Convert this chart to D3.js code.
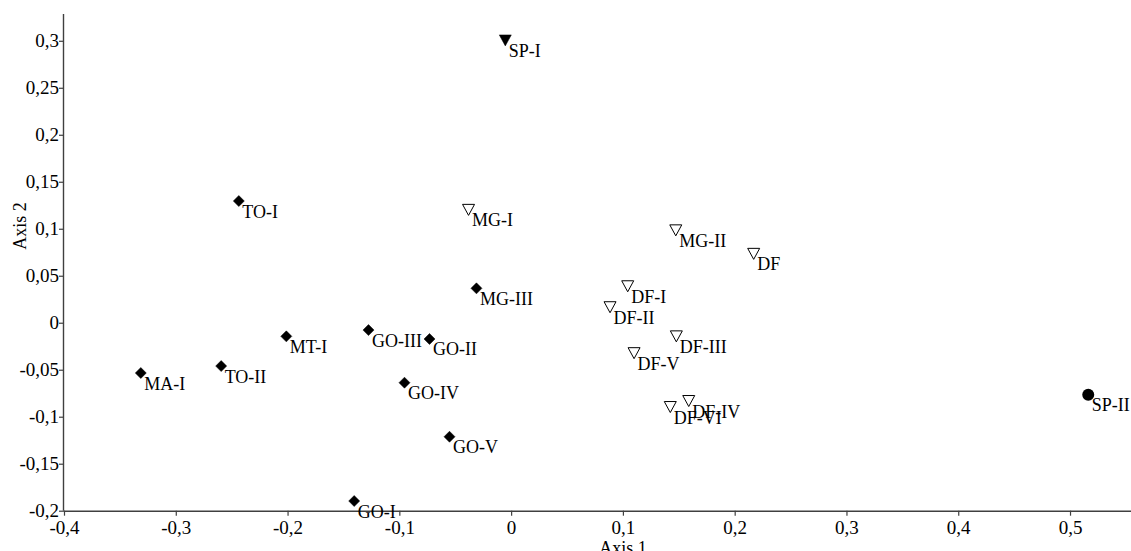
<!DOCTYPE html>
<html>
<head>
<meta charset="utf-8">
<script src="https://cdn.jsdelivr.net/npm/d3@7"></script>
<style>
  body { margin: 0; background: #fff; }
  svg { display: block; overflow: hidden; }
  svg text { font-family: "Liberation Serif", Tinos, "Times New Roman", Times, "Nimbus Roman", "DejaVu Serif", serif; fill: #000; }
</style>
</head>
<body>
<div class="chart"></div>
<script>
// Dati
const labels = ["MA-I", "TO-II", "TO-I", "MT-I", "GO-III", "GO-II", "GO-IV", "GO-V", "GO-I", "MG-III",
                "SP-I", "MG-I", "MG-II", "DF", "DF-I", "DF-II", "DF-III", "DF-V", "DF-VI", "DF-IV", "SP-II"];
const axis1 = [-0.3313, -0.2594, -0.2436, -0.2011, -0.1276, -0.0730, -0.0954, -0.0551, -0.1404, -0.0310,
               -0.0052, -0.0381, 0.1473, 0.2170, 0.1043, 0.0885, 0.1478, 0.1100, 0.1424, 0.1589, 0.5163];
const axis2 = [-0.0535, -0.0461, 0.1295, -0.0145, -0.0078, -0.0173, -0.0638, -0.1213, -0.1897, 0.0366,
               0.3004, 0.1201, 0.0983, 0.0733, 0.0388, 0.0165, -0.0145, -0.0324, -0.0897, -0.0833, -0.0767];
const markers = ["diamond", "diamond", "diamond", "diamond", "diamond", "diamond", "diamond", "diamond", "diamond", "diamond",
                 "filledTri", "openTri", "openTri", "openTri", "openTri", "openTri", "openTri", "openTri", "openTri", "openTri", "circle"];
const xTicks = [-0.4, -0.3, -0.2, -0.1, 0, 0.1, 0.2, 0.3, 0.4, 0.5];
const yTicks = [-0.2, -0.15, -0.1, -0.05, 0, 0.05, 0.1, 0.15, 0.2, 0.25, 0.3];

const width = 1131;
const height = 551;
const serif = '"Liberation Serif", Tinos, "Times New Roman", Times, "Nimbus Roman", "DejaVu Serif", serif';

const svg = d3.select('.chart')
    .append('svg')
    .attr('width', width)
    .attr('height', height);

// scale (l'asse x continua oltre il bordo destro)
const x = d3.scaleLinear().domain([-0.4, 0.6]).range([64, 1181.8]);
const y = d3.scaleLinear().domain([-0.2, 0.3285]).range([510.7, 14]);

const locale = d3.formatLocale({ decimal: ",", thousands: ".", grouping: [3], currency: ["", ""], minus: "-" });
const fmt = locale.format("~g");

// asse x
const gx = svg.append('g')
    .attr('transform', `translate(0,${y(-0.2)})`)
    .call(d3.axisBottom(x).tickValues(xTicks).tickFormat(fmt).tickSize(5).tickPadding(5));

// asse y
const gy = svg.append('g')
    .attr('transform', `translate(${x(-0.4)},0)`)
    .call(d3.axisLeft(y).tickValues(yTicks).tickFormat(fmt).tickSize(5).tickPadding(0));

[gx, gy].forEach(g => {
    g.attr('font-family', serif).attr('font-size', 19);
    g.select('.domain').attr('stroke', '#404040').attr('stroke-width', 1.4);
    g.selectAll('.tick line').attr('stroke', '#404040').attr('stroke-width', 1.2);
    g.selectAll('.tick text').attr('fill', '#000');
});
// nessuna sporgenza agli estremi
gx.select('.domain').attr('d', `M${x(-0.4)},0.5H${x(0.6)}`);
gy.select('.domain').attr('d', `M-0.5,${y(0.3285)}V${y(-0.2)}`);

// titoli degli assi
svg.append('text')
    .attr('x', (x(-0.4) + x(0.6)) / 2)
    .attr('y', 554)
    .attr('text-anchor', 'middle')
    .attr('font-size', 18)
    .text('Axis 1');

svg.append('text')
    .attr('transform', 'translate(26,226) rotate(-90)')
    .attr('text-anchor', 'middle')
    .attr('font-size', 18)
    .text('Axis 2');

const data = labels.map((name, i) => ({ name, a1: axis1[i], a2: axis2[i], m: markers[i] }));

const shapes = {
    diamond: 'M0,-5.5L5.5,0L0,5.5L-5.5,0Z',
    filledTri: 'M-6,-5.5L6,-5.5L0,5.5Z',
    openTri: 'M-6,-5.5L6,-5.5L0,5.5Z'
};

const pts = svg.append('g');

data.forEach(d => {
    const g = pts.append('g').attr('transform', `translate(${x(d.a1)},${y(d.a2)})`);
    if (d.m === 'circle') {
        g.append('circle').attr('r', 6).attr('fill', '#000');
    } else {
        g.append('path')
            .attr('d', shapes[d.m])
            .attr('fill', d.m === 'openTri' ? '#fff' : '#000')
            .attr('stroke', '#000')
            .attr('stroke-width', d.m === 'openTri' ? 1 : 0.5);
    }
});

// etichette dei punti
pts.selectAll('text.lbl')
    .data(data)
    .enter()
    .append('text')
    .attr('class', 'lbl')
    .attr('x', d => x(d.a1) + 3.5)
    .attr('y', d => y(d.a2) + 16.5)
    .attr('font-size', 18)
    .text(d => d.name);
</script>
</body>
</html>
